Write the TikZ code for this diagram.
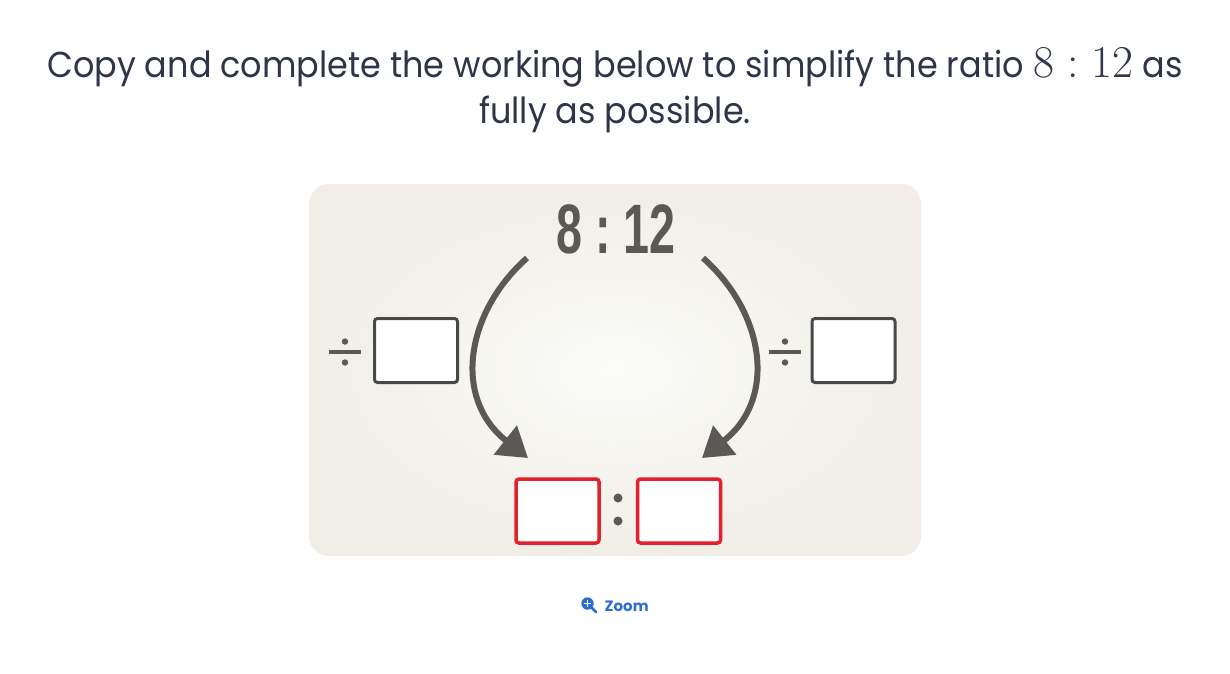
\documentclass[tikz,border=0pt]{standalone}
\usepackage{fontspec}
\usetikzlibrary{arrows.meta}
\newfontfamily\titlefont{Poppins}
\newfontfamily\numfont{Liberation Sans}
\newfontfamily\lmrfont{Latin Modern Roman}
\definecolor{txt}{HTML}{2F3548}
\definecolor{ink}{HTML}{5A5955}
\definecolor{boxink}{HTML}{484846}
\definecolor{redbox}{HTML}{E3202B}
\definecolor{panelout}{HTML}{F0EEE6}
\definecolor{panelin}{HTML}{FBFBF8}
\definecolor{link}{HTML}{2C6FD1}
\newcommand{\sqz}[1]{\scalebox{0.93}[1]{#1}}
\begin{document}
\begin{tikzpicture}[x=1pt,y=-1pt,
  answer/.style={draw=boxink,line width=3pt,fill=white,rounded corners=3pt,minimum width=83pt,minimum height=64pt,inner sep=0pt},
  redanswer/.style={draw=redbox,line width=3.5pt,fill=white,rounded corners=3pt,minimum width=83pt,minimum height=64pt,inner sep=0pt},
  arr/.style={draw=ink,line width=6pt,-{Triangle[length=29pt,width=36pt]}},
  dot/.style={fill=ink},
  title/.style={text=txt,font=\titlefont\fontsize{36}{46}\selectfont,anchor=base,inner sep=0pt}]
\useasboundingbox (0,0) rectangle (1230,673);
\fill[white] (0,0) rectangle (1230,673);
% title
\node[title] (t1) at (615,77) {\sqz{Copy and complete the working below to simplify the ratio} {\lmrfont\fontsize{45.5}{46}\selectfont 8\hspace{0.28em}:\hspace{0.28em}12} \sqz{as}};
\node[title] (t2) at (615,123) {\sqz{fully as possible.}};
% panel
\shade[inner color=panelin,outer color=panelout,rounded corners=20pt] (309,184) rectangle (921,556);
% top ratio
\node[anchor=base,inner sep=0pt,text=ink] (top) at (616,253) {\scalebox{0.667}[1]{\numfont\bfseries\fontsize{70}{70}\selectfont 8\hspace{0.27em}:\hspace{0.27em}12}};
% divide boxes
\node[answer] (lbox) at (416,350.5) {};
\node[answer] (rbox) at (853.5,350.5) {};
\fill[ink] (329,350) rectangle (361,354);
\fill[dot] (345,341.5) circle (3.2);
\fill[dot] (345,362.5) circle (3.2);
\fill[ink] (769,350) rectangle (801,354);
\fill[dot] (785,341.5) circle (3.2);
\fill[dot] (785,362.5) circle (3.2);
% answer boxes
\node[redanswer] (a1) at (557.5,511) {};
\node[redanswer] (a2) at (679,511) {};
\fill[dot] (618,498) circle (4.5);
\fill[dot] (618,521) circle (4.5);
% arrows
\coordinate (ls) at (527,258);
\coordinate (lt) at (528,458);
\coordinate (rs) at (703,258);
\coordinate (rt) at (702,458);
\draw[arr] (ls) .. controls (466,312) and (452,398) .. (lt);
\draw[arr] (rs) .. controls (764,312) and (778,398) .. (rt);
% zoom link
\fill[link] (587.5,603.5) circle (6.2);
\draw[link,line width=2.8pt,line cap=round] (591.5,607.5) -- (596,612);
\draw[white,line width=1.5pt] (584,603.5) -- (591,603.5) (587.5,600) -- (587.5,607);
\node[anchor=base west,inner sep=0pt,text=link,font=\titlefont\bfseries\fontsize{15}{18}\selectfont] (zoom) at (604.5,611) {Zoom};
\end{tikzpicture}
\end{document}
